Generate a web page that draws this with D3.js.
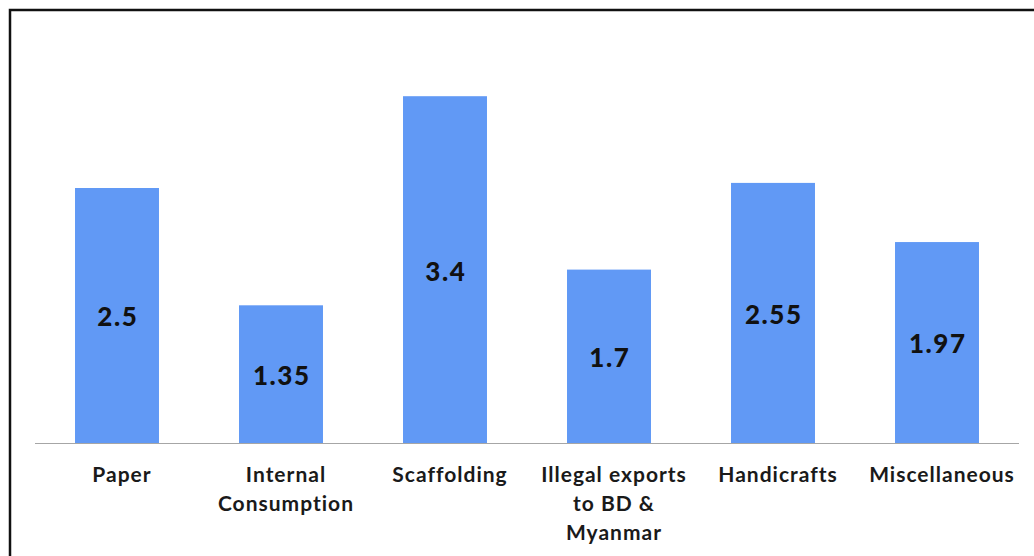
<!DOCTYPE html>
<html>
<head>
<meta charset="utf-8">
<script src="https://cdn.jsdelivr.net/npm/d3@7"></script>
<style>
  html, body { margin: 0; padding: 0; background: #fff; }
  svg { display: block; }
  text { font-variant-ligatures: none; }
</style>
</head>
<body>
<svg id="chart" width="1034" height="556"></svg>
<script>
// Bamboo use by sector
const categories = ["Paper", "Internal Consumption", "Scaffolding", "Illegal exports to BD & Myanmar", "Handicrafts", "Miscellaneous"];
const categoryLines = [["Paper"], ["Internal", "Consumption"], ["Scaffolding"], ["Illegal exports", "to BD &", "Myanmar"], ["Handicrafts"], ["Miscellaneous"]];
const values = [2.5, 1.35, 3.4, 1.7, 2.55, 1.97];
const valueLabels = ["2.5", "1.35", "3.4", "1.7", "2.55", "1.97"];

const svg = d3.select("#chart");
const W = 1034, H = 556;

// outer frame (only left and top edges fall inside the view)
svg.append("rect")
  .attr("x", 10).attr("y", 10)
  .attr("width", W + 20).attr("height", H + 20)
  .attr("fill", "none")
  .attr("stroke", "#111")
  .attr("stroke-width", 2.5);

const baseY = 443;
const x = d3.scaleBand()
  .domain(categories)
  .range([35, 1019])
  .paddingInner(0.488)
  .paddingOuter(0.244);

const y = d3.scaleLinear()
  .domain([0, 4])
  .range([baseY, baseY - 4 * 102]);

const bars = svg.append("g");
bars.selectAll("rect")
  .data(categories)
  .join("rect")
  .attr("x", d => x(d))
  .attr("width", x.bandwidth())
  .attr("y", (d, i) => y(values[i]))
  .attr("height", (d, i) => y(0) - y(values[i]))
  .attr("fill", "#6199F5");

// baseline
svg.append("line")
  .attr("x1", 35).attr("x2", 1019)
  .attr("y1", baseY + 0.5).attr("y2", baseY + 0.5)
  .attr("stroke", "#a6a6a6")
  .attr("stroke-width", 1.2);

// value labels centred in bars
svg.append("g").selectAll("text")
  .data(categories)
  .join("text")
  .attr("x", d => x(d) + x.bandwidth() / 2 + 0.8)
  .attr("y", (d, i) => (y(values[i]) + y(0)) / 2)
  .attr("dy", "0.42em")
  .attr("text-anchor", "middle")
  .attr("font-family", "Lato, 'Open Sans', sans-serif")
  .attr("font-weight", 900)
  .attr("font-size", 26)
  .attr("letter-spacing", 1.6)
  .attr("fill", "#111")
  .text((d, i) => valueLabels[i]);

// category labels, set a little right of the bar centre
const catG = svg.append("g");
categories.forEach((c, i) => {
  const cx = x(c) + x.bandwidth() / 2 + 5;
  const t = catG.append("text")
    .attr("x", cx)
    .attr("y", 482)
    .attr("text-anchor", "middle")
    .attr("font-family", "Lato, 'Open Sans', sans-serif")
    .attr("font-weight", 700)
    .attr("font-size", 21)
    .attr("letter-spacing", 1)
    .attr("fill", "#1a1a1a");
  categoryLines[i].forEach((line, j) => {
    t.append("tspan")
      .attr("x", cx)
      .attr("y", 482 + j * 29)
      .text(line);
  });
});
</script>
</body>
</html>
